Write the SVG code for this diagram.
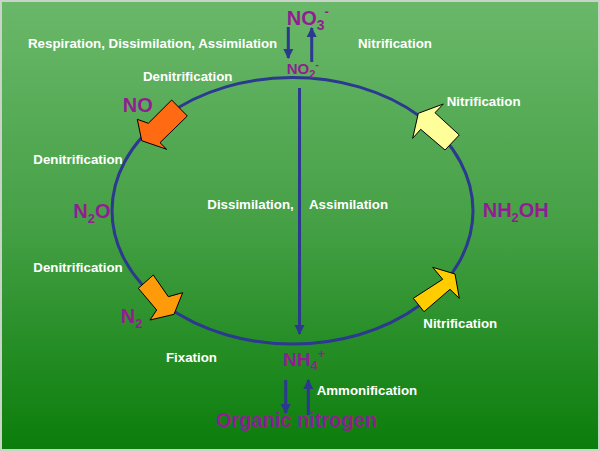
<svg xmlns="http://www.w3.org/2000/svg" width="600" height="451" viewBox="0 0 600 451">
<defs>
<linearGradient id="bg" x1="0" y1="0" x2="0" y2="1">
<stop offset="0" stop-color="#6ab86a"/>
<stop offset="0.5" stop-color="#45a045"/>
<stop offset="1" stop-color="#0a7d0a"/>
</linearGradient>
<marker id="ah" markerUnits="userSpaceOnUse" markerWidth="10" markerHeight="12" viewBox="0 0 10 12" refX="9" refY="6" orient="auto">
<path d="M0,1 L10,6 L0,11 Z" fill="#2b3990"/>
</marker>
<style>
.lbl{font-family:"Liberation Sans",Arial,sans-serif;font-weight:bold;font-size:13.3px;fill:#ffffff}
.chem{font-family:"Liberation Sans",Arial,sans-serif;font-weight:bold;fill:#921d92}
.ln{stroke:#2b3990;stroke-width:3;fill:none}
.blk{stroke:#000000;stroke-width:1;stroke-linejoin:miter}
</style>
</defs>
<rect x="0" y="0" width="600" height="451" fill="url(#bg)"/>
<rect x="1" y="1" width="598" height="449" fill="none" stroke="#c8d4c8" stroke-width="2"/>

<g id="connectors">
<ellipse class="ln" cx="292.5" cy="210.8" rx="180.5" ry="133.3"/>
<line class="ln" x1="299.5" y1="88" x2="299.5" y2="334" marker-end="url(#ah)"/>
<line class="ln" x1="288.3" y1="27" x2="288.3" y2="58" marker-end="url(#ah)"/>
<line class="ln" x1="311.7" y1="62" x2="311.7" y2="28" marker-end="url(#ah)"/>
<line class="ln" x1="285.7" y1="380" x2="285.7" y2="413" marker-end="url(#ah)"/>
<line class="ln" x1="308.3" y1="415" x2="308.3" y2="380" marker-end="url(#ah)"/>
</g>

<g id="arrow-no">
<polygon class="blk" fill="#ff6a13" points="171.7,100 187.3,116 160,142.7 166.7,149.3 141.7,140.7 137.3,119.3 148.3,123.3"/>
</g>
<g id="arrow-n2">
<polygon class="blk" fill="#ff9a0a" points="153.3,275 168.3,296.7 182.7,292.7 174,314.3 150,320 156.7,310 138.3,288.3"/>
</g>
<g id="arrow-nh2oh">
<polygon class="blk" fill="#ffcc00" points="413.3,298.3 442.7,279.3 432.7,267.3 455,274 459.3,298.3 450,289.3 424,311.7"/>
</g>
<g id="arrow-no3">
<polygon class="blk" fill="#ffff99" points="459.3,135 445,150 420.7,129.3 412.7,138.3 418.3,113.3 443.3,104 435,112.7"/>
</g>

<g id="node-no3">
<text class="chem" x="286.7" y="25" font-size="20">NO<tspan font-size="14" dy="5">3</tspan><tspan font-size="13" dy="-14">-</tspan></text>
</g>
<g id="node-no2">
<text class="chem" x="286.7" y="74" font-size="15">NO<tspan font-size="11" dy="4">2</tspan><tspan font-size="11" dy="-10">-</tspan></text>
</g>
<g id="node-no">
<text class="chem" x="122.7" y="112" font-size="20">NO</text>
</g>
<g id="node-n2o">
<text class="chem" x="73.3" y="217.5" font-size="20">N<tspan font-size="13" dy="5">2</tspan><tspan dy="-5">O</tspan></text>
</g>
<g id="node-n2">
<text class="chem" x="120.7" y="322.7" font-size="20">N<tspan font-size="13" dy="5">2</tspan></text>
</g>
<g id="node-nh2oh">
<text class="chem" x="482.7" y="216.7" font-size="20">NH<tspan font-size="13" dy="5">2</tspan><tspan dy="-5">OH</tspan></text>
</g>
<g id="node-nh4">
<text class="chem" x="283" y="366" font-size="19">NH<tspan font-size="13" dy="4">4</tspan><tspan font-size="13" dy="-12">+</tspan></text>
</g>
<g id="node-organic">
<text class="chem" x="216" y="427" font-size="20">Organic nitrogen</text>
</g>

<g id="labels">
<text class="lbl" x="28" y="48">Respiration, Dissimilation, Assimilation</text>
<text class="lbl" x="358" y="48">Nitrification</text>
<text class="lbl" x="143" y="81">Denitrification</text>
<text class="lbl" x="446.7" y="106">Nitrification</text>
<text class="lbl" x="33.3" y="164">Denitrification</text>
<text class="lbl" x="207.3" y="209">Dissimilation,</text>
<text class="lbl" x="309" y="209">Assimilation</text>
<text class="lbl" x="33.3" y="272">Denitrification</text>
<text class="lbl" x="423.3" y="327.5">Nitrification</text>
<text class="lbl" x="166" y="362">Fixation</text>
<text class="lbl" x="316.7" y="395">Ammonification</text>
</g>
</svg>
